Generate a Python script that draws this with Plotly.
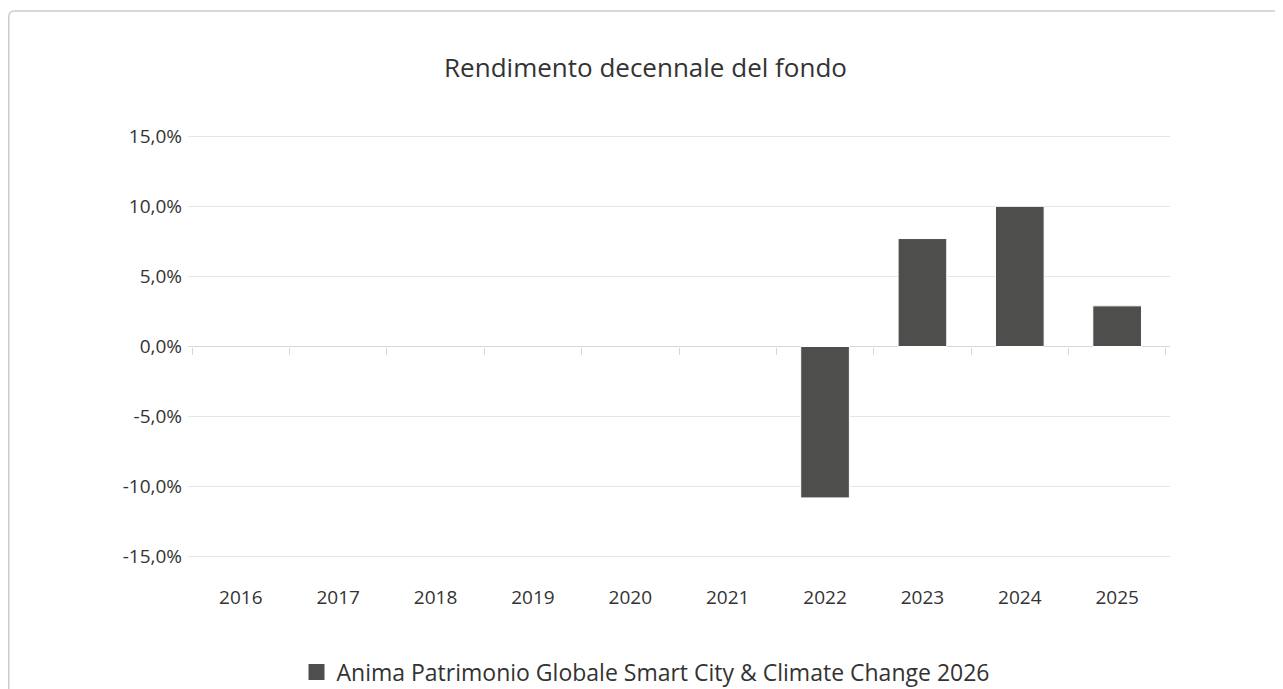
import plotly.graph_objects as go

years = ["2016", "2017", "2018", "2019", "2020", "2021", "2022", "2023", "2024", "2025"]
returns = [None, None, None, None, None, None, -10.8, 7.7, 10.0, 2.9]
series_name = "Anima Patrimonio Globale Smart City & Climate Change 2026"
title_text = "Rendimento decennale del fondo"
y_ticks = [-15, -10, -5, 0, 5, 10, 15]
y_tick_labels = ["-15,0%", "-10,0%", "-5,0%", "0,0%", "5,0%", "10,0%", "15,0%"]

FONT = "Open Sans"
BAR_COLOR = "#4e4e4c"
# the page body adds an 8px offset; figure coordinates = window coordinates - 8
W, H = 1275, 681
L, R, T, B = 180, 1162, 124, 553
Y_RANGE = [-15.3, 15.3]

fig = go.Figure()
fig.add_trace(go.Bar(
    x=years, y=returns, name=series_name, showlegend=False,
    marker=dict(color=BAR_COLOR, line=dict(color="#ffffff", width=1)),
))
# legend entry with a larger square symbol
fig.add_trace(go.Scatter(
    x=[None], y=[None], name=series_name, mode="markers",
    marker=dict(symbol="square", size=20, color=BAR_COLOR),
    showlegend=True, hoverinfo="skip",
))
# helper trace for the zero-line category ticks
fig.add_trace(go.Scatter(
    x=years, y=[0] * len(years), xaxis="x2", mode="markers",
    marker=dict(opacity=0), showlegend=False, hoverinfo="skip",
))

def px_x(px):
    return (px - L) / (R - L)

def px_y(py):
    return (B - py) / (B - T)

# container border with rounded top-left corner
x0, y0 = px_x(0.75), px_y(3)
x1, y1 = px_x(1300), px_y(720)
rx, ry = px_x(6.75) - px_x(0.75), px_y(3) - px_y(9)
path = (f"M {x0},{y1} L {x0},{y0 - ry} Q {x0},{y0} {x0 + rx},{y0} L {x1},{y0}")

fig.update_layout(
    width=W, height=H,
    margin=dict(l=L, r=W - R, t=T, b=H - B, pad=0),
    paper_bgcolor="white", plot_bgcolor="white",
    separators=",.",
    font=dict(family=FONT, color="#333333", size=19),
    title=dict(text=title_text, x=0.5, xanchor="center", y=1 - 60 / H,
               yanchor="middle", yref="container",
               font=dict(family=FONT, size=26, color="#333333")),
    bargap=0.5,
    showlegend=True,
    legend=dict(orientation="h", x=0.5, xanchor="center", xref="container",
                y=1 - 664 / H, yanchor="middle", yref="container",
                font=dict(family=FONT, size=23, color="#333333"),
                itemsizing="trace"),
    xaxis=dict(type="category", categoryorder="array", categoryarray=years,
               showgrid=False, showline=False, zeroline=False,
               ticks="", ticklabelstandoff=23,
               tickfont=dict(family=FONT, size=19, color="#333333")),
    xaxis2=dict(type="category", categoryorder="array", categoryarray=years,
                overlaying="x", anchor="free", position=(0 - Y_RANGE[0]) / (Y_RANGE[1] - Y_RANGE[0]),
                matches="x",
                showgrid=False, showline=False, zeroline=False,
                ticks="outside", tickson="boundaries", ticklen=7,
                tickcolor="#d8d8d8", tickwidth=1, showticklabels=False),
    yaxis=dict(range=Y_RANGE, tickvals=y_ticks, ticktext=y_tick_labels,
               showgrid=True, gridcolor="#e6e6e6", gridwidth=1,
               zeroline=True, zerolinecolor="#d8d8d8", zerolinewidth=1,
               showline=False, ticks="", ticklabelstandoff=5,
               tickfont=dict(family=FONT, size=19, color="#333333")),
    shapes=[dict(type="path", path=path, xref="paper", yref="paper",
                 line=dict(color="#cccccc", width=1.5))],
)

fig.write_html("out.html")
